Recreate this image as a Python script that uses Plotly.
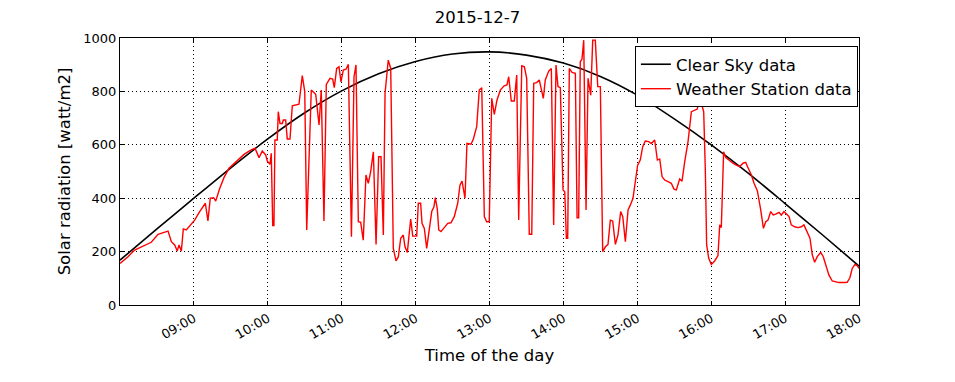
import plotly.graph_objects as go
import pandas as pd

day = "2015-12-07"

# Weather station: minutes after 08:00 and radiation (W/m2)
ws_minutes = [0, 6.5, 11.9, 18.7, 25.4, 30.9, 39, 41.7, 44.4, 46.5, 47.9, 49.8, 51.4, 53.8, 60.6, 64.7, 69.3, 71.4, 73.3, 76.1,
              77.7, 81, 84.4, 88.5, 95.2, 100.7, 106.1, 109.6, 112.9, 115.5, 118.3, 119.6, 121.8, 122.8, 124, 125, 125.8, 127.7, 128.5, 129.9,
              131.8, 132.6, 134.5, 135.8, 138, 139.9, 145.3, 148, 150, 151.6, 155.3, 158.9, 161.6, 163.4, 165.6, 167.5, 170.5, 172.7, 174, 175.9,
              177.8, 179.4, 181.3, 183.5, 185.4, 187.9, 190, 191.6, 193.5, 195.4, 197.5, 199.7, 201.6, 203.5, 205.7, 207.9, 210, 211.9, 213.8, 215.2,
              217.8, 219.8, 221.9, 224.1, 226, 227.9, 230, 231.4, 233.3, 234.9, 236, 237.7, 240.9, 242.2, 244.1, 245.2, 247.1, 249, 251.1, 253.1,
              254.9, 256, 257.6, 258.8, 260.6, 263.3, 266.1, 268.7, 271.4, 274.2, 276, 277.7, 280.1, 281.7, 285, 286.9, 289.6, 291.7, 293.7, 295.8,
              297.7, 299.8, 301.8, 303.9, 306.1, 308.8, 311.9, 314.2, 315.6, 317.7, 320.1, 322.1, 323.7, 326.2, 328.3, 330.2, 332.3, 334.3, 335.9, 338.3,
              340.4, 343.7, 345.3, 348.1, 350.2, 352.1, 354, 355.6, 357.5, 359.7, 361.1, 362.4, 363.5, 364.8, 367, 369.7, 371.1, 372.4, 373.7, 375.1,
              376.5, 378.4, 380, 382.2, 383.8, 385.9, 387.9, 390, 391.9, 394.1, 396.2, 398.1, 400, 402.2, 404.3, 406.5, 408.2, 410.3, 412.5, 414.3,
              416.5, 418.4, 420.3, 422.4, 424.4, 426.5, 429.3, 431.4, 434.1, 436.3, 438.2, 440.1, 442.2, 444.9, 447.6, 449.8, 451.7, 454.4, 456.3, 458.5,
              461.2, 463.9, 466.6, 468.7, 470.1, 472, 473.9, 475.2, 476.3, 478, 480.1, 482.8, 485.5, 486.9, 488.2, 490.1, 491.8, 494.2, 497.7, 500.4,
              503.1, 505.8, 508, 509.9, 512.6, 514.8, 517.5, 520.2, 522.4, 524.3, 526.1, 528.3, 530.4, 532.4, 535.1, 536.9, 539.1, 541.3, 543.2, 545,
              547.8, 550.5, 553.2, 555.3, 558, 560.2, 562.1, 564, 566.1, 568.9, 571, 572.9, 575.6, 578.3, 581, 583.7, 587.8, 590.4, 592.6, 594.5,
              596.7, 598.6, 600]
ws_values = [156, 181, 206, 222, 235, 265, 277, 237, 225, 202, 225, 202, 285, 281, 318, 350, 381, 315, 400, 402,
             389, 437, 477, 512, 539, 564, 580, 587, 552, 577, 562, 539, 527, 568, 298, 298, 618, 618, 724, 680,
             680, 693, 693, 622, 622, 746, 752, 859, 799, 281, 805, 789, 674, 805, 315, 826, 849, 846, 814, 886,
             892, 836, 880, 883, 901, 256, 855, 899, 312, 310, 243, 487, 456, 499, 574, 227, 555, 555, 262, 793,
             917, 886, 212, 165, 181, 250, 262, 218, 197, 262, 322, 258, 258, 381, 381, 306, 287, 212, 275, 350,
             368, 402, 360, 281, 275, 290, 306, 308, 331, 381, 449, 464, 400, 605, 602, 622, 668, 805, 814, 331,
             312, 312, 774, 714, 768, 805, 821, 824, 855, 764, 764, 861, 318, 896, 892, 849, 265, 265, 830, 833,
             843, 774, 843, 876, 886, 300, 899, 818, 814, 431, 424, 250, 250, 886, 871, 868, 327, 327, 911, 921,
             992, 356, 849, 786, 992, 992, 818, 818, 200, 218, 227, 318, 315, 227, 262, 350, 331, 237, 356, 374,
             400, 462, 524, 543, 593, 614, 612, 605, 618, 543, 547, 481, 468, 462, 456, 434, 431, 472, 464, 537,
             612, 724, 730, 734, 768, 755, 724, 512, 225, 175, 152, 165, 185, 300, 290, 574, 552, 543, 531, 524,
             518, 531, 534, 514, 487, 456, 427, 356, 287, 312, 318, 350, 337, 340, 347, 337, 350, 340, 331, 300,
             293, 290, 293, 300, 275, 250, 187, 160, 181, 197, 181, 150, 112, 90, 87, 84, 84, 85, 102, 137,
             152, 147, 137]

# Clear sky model: every 30 minutes from 08:00
cs_minutes = [0, 30, 60, 90, 120, 150, 180, 210, 240, 270, 300, 330, 360, 390, 420, 450, 480, 510, 540, 570, 600]
cs_values = [168, 285, 400, 514, 622, 720, 802, 866, 912, 940, 948, 936, 906, 856, 786, 697, 600, 494, 380, 264, 146]

tick_labels = ["09:00", "10:00", "11:00", "12:00", "13:00", "14:00", "15:00", "16:00", "17:00", "18:00"]

start = pd.Timestamp(day + " 08:00")
ws_t = [start + pd.Timedelta(minutes=m) for m in ws_minutes]
cs_t = [start + pd.Timedelta(minutes=m) for m in cs_minutes]
tickvals = [pd.Timestamp(day + " " + t) for t in tick_labels]

fig = go.Figure()
fig.add_trace(go.Scatter(x=cs_t, y=cs_values, mode="lines", name="Clear Sky data",
                         line=dict(color="black", width=1.6, shape="spline", smoothing=0.8)))
fig.add_trace(go.Scatter(x=ws_t, y=ws_values, mode="lines", name="Weather Station data",
                         line=dict(color="#ff0000", width=1.4)))

font = "DejaVu Sans, Verdana, sans-serif"
axis_common = dict(showline=True, linecolor="black", linewidth=1.2, mirror="allticks",
                   ticks="inside", ticklen=4, tickcolor="black",
                   showgrid=True, gridcolor="black", gridwidth=1, griddash="1px,3px",
                   zeroline=False, tickfont=dict(family=font, size=13, color="black"))

fig.update_layout(
    width=955, height=382,
    margin=dict(l=120, r=96, t=38, b=77),
    paper_bgcolor="white", plot_bgcolor="white",
    font=dict(family=font, color="black"),
    title=dict(text="2015-12-7", x=0.5, xanchor="center", y=0.955, yanchor="middle",
               font=dict(family=font, size=16.5, color="black")),
    showlegend=True,
    legend=dict(x=0.9985, xanchor="right", y=0.97, yanchor="top",
                bordercolor="black", borderwidth=1, bgcolor="white",
                font=dict(family=font, size=16.5, color="black")),
    xaxis=dict(range=[start, start + pd.Timedelta(minutes=600)], tickvals=tickvals, ticktext=tick_labels,
               tickangle=-30, title=dict(text="Time of the day", font=dict(family=font, size=16.5), standoff=8),
               **axis_common),
    yaxis=dict(range=[0, 1000], tickvals=[0, 200, 400, 600, 800, 1000],
               title=dict(text="Solar radiation [watt/m2]", font=dict(family=font, size=16.5), standoff=8),
               **axis_common),
)

fig.write_html("out.html", config={"displayModeBar": False},
               post_script="document.body.style.margin='0';")
